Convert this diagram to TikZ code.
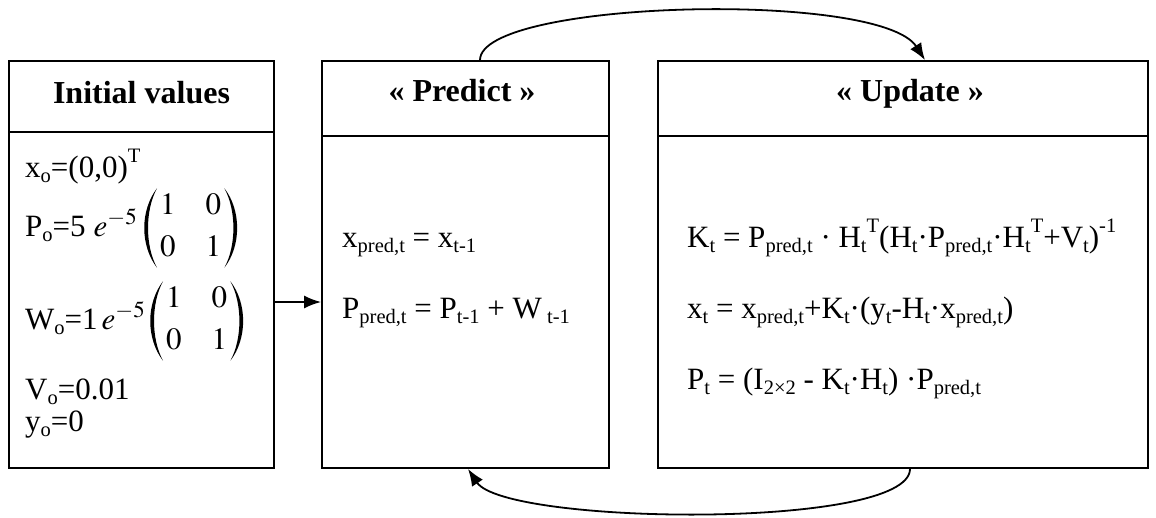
\documentclass[tikz,border=0pt]{standalone}
\usepackage{amsmath}
\usepackage{mathptmx}
\usepackage{fontspec}
\setmainfont{Liberation Serif}
\usetikzlibrary{arrows.meta}
\newcommand{\Lsub}[1]{\raisebox{-0.17em}{\fontsize{20.5}{20.5}\selectfont #1}}
\newcommand{\Lsup}[1]{\raisebox{0.48em}{\fontsize{20.5}{20.5}\selectfont #1}}
\newcommand{\digits}{$\begin{array}{@{}c@{\hspace{30pt}}c@{}}1&0\\[5pt]0&1\end{array}$}
\newcommand{\Lparen}[1]{%
  \fill ([xshift=-3pt]#1.north west) .. controls ([xshift=-20pt,yshift=-22pt]#1.north west) and ([xshift=-20pt,yshift=22pt]#1.south west) .. ([xshift=-3pt]#1.south west)
    .. controls ([xshift=-15pt,yshift=22pt]#1.south west) and ([xshift=-15pt,yshift=-22pt]#1.north west) .. cycle;}
\newcommand{\Rparen}[1]{%
  \fill ([xshift=3pt]#1.north east) .. controls ([xshift=20pt,yshift=-22pt]#1.north east) and ([xshift=20pt,yshift=22pt]#1.south east) .. ([xshift=3pt]#1.south east)
    .. controls ([xshift=15pt,yshift=22pt]#1.south east) and ([xshift=15pt,yshift=-22pt]#1.north east) .. cycle;}
\tikzset{
  box/.style={draw, line width=1.8pt, inner sep=0pt},
  titletext/.style={font=\fontsize{32}{38}\selectfont\bfseries, anchor=base, inner sep=0pt},
  bodytext/.style={font=\fontsize{31}{37}\selectfont, anchor=base west, inner sep=0pt},
  matnode/.style={font=\fontsize{31}{37}\selectfont, anchor=west, inner sep=0pt},
  divider/.style={line width=1.8pt},
  arr/.style={line width=1.8pt, -{Latex[length=17pt,width=13pt]}},
}
\begin{document}
\begin{tikzpicture}[x=1pt,y=-1pt]
\useasboundingbox (0,0) rectangle (1156,517);
% boxes
\node[box, minimum width=265pt, minimum height=407pt] (init) at (141.5,264.5) {};
\node[box, minimum width=287pt, minimum height=407pt] (pred) at (465.5,264.5) {};
\node[box, minimum width=490pt, minimum height=407pt] (upd) at (903,264.5) {};
% dividers
\draw[divider] (init.west |- 0,132) -- (init.east |- 0,132);
\draw[divider] (pred.west |- 0,136) -- (pred.east |- 0,136);
\draw[divider] (upd.west |- 0,136) -- (upd.east |- 0,136);
% titles
\node[titletext] (t1) at (141.5,103) {Initial values};
\node[titletext] (t2) at (462,101) {«~Predict~»};
\node[titletext] (t3) at (910,101) {«~Update~»};
% initial values
\node[bodytext] (i1) at (25,177) {x\Lsub{o}=(0,0)\Lsup{T}};
\node[bodytext] (i2) at (25,236) {P\Lsub{o}=5\hspace{8pt}$e^{-5}$};
\node[matnode] (m1) at (160,228) {\digits};
\Lparen{m1}\Rparen{m1}
\node[bodytext] (i3) at (25,329) {W\Lsub{o}=1\hspace{4pt}$e^{-5}$};
\node[matnode] (m2) at (166,321) {\digits};
\Lparen{m2}\Rparen{m2}
\node[bodytext] (i4) at (25,399) {V\Lsub{o}=0.01};
\node[bodytext] (i5) at (25,431) {y\Lsub{o}=0};
% predict
\node[bodytext] (p1) at (342,247) {x\Lsub{pred,t} = x\Lsub{t-1}};
\node[bodytext] (p2) at (342,318) {P\Lsub{pred,t} = P\Lsub{t-1} + W\Lsub{ t-1}};
% update
\node[bodytext] (u1) at (687,247) {K\Lsub{t} = P\Lsub{pred,t} · H\Lsub{t}\Lsup{T}(H\Lsub{t}·P\Lsub{pred,t}·H\Lsub{t}\Lsup{T}+V\Lsub{t})\Lsup{-1}};
\node[bodytext] (u2) at (687,318) {x\Lsub{t} = x\Lsub{pred,t}+K\Lsub{t}·(y\Lsub{t}-H\Lsub{t}·x\Lsub{pred,t})};
\node[bodytext] (u3) at (687,389) {P\Lsub{t} = (I\Lsub{2×2} - K\Lsub{t}·H\Lsub{t}) ·P\Lsub{pred,t}};
% connectors
\coordinate (mid) at (0,302);
\draw[arr] (init.east |- mid) -- (pred.west |- mid);
\draw[arr] ([xshift=14.5pt]pred.north) .. controls (480,0) and (880,-10) .. ([xshift=22pt]upd.north);
\draw[arr] ([xshift=7pt]upd.south) .. controls (910,530) and (505,525) .. ([xshift=2.5pt]pred.south);
\end{tikzpicture}
\end{document}
